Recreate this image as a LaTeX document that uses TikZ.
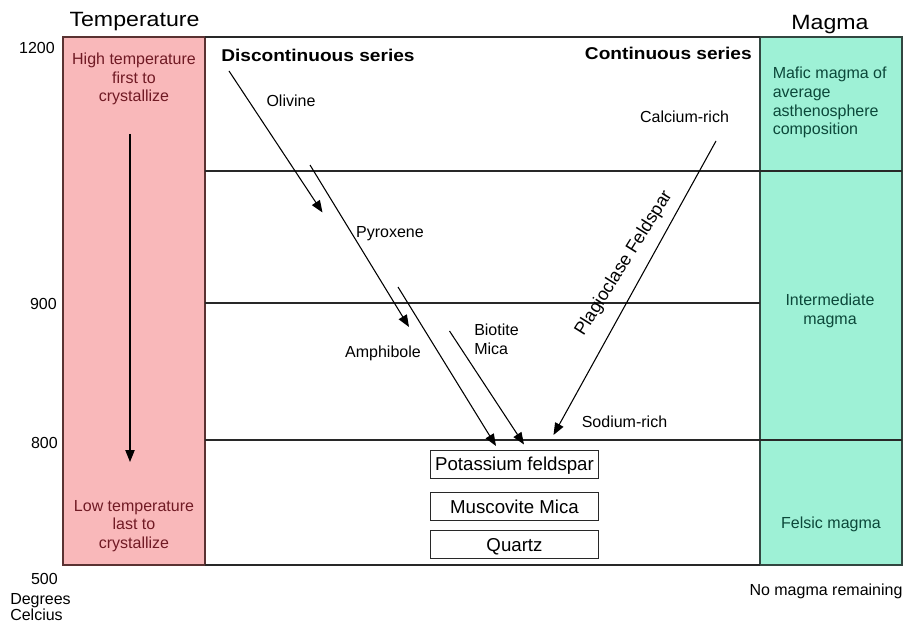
\documentclass[tikz,border=0pt]{standalone}
\usepackage{fontspec}
\setmainfont{Liberation Sans}
\newfontfamily\headfont[FakeStretch=1.12]{Liberation Sans}
\usetikzlibrary{arrows.meta}
\definecolor{pinkfill}{RGB}{249,184,186}
\definecolor{pinkedge}{RGB}{90,50,50}
\definecolor{pinktext}{RGB}{112,26,36}
\definecolor{tealfill}{RGB}{158,241,214}
\definecolor{tealedge}{RGB}{50,70,64}
\definecolor{tealtext}{RGB}{12,72,58}
\definecolor{linegray}{RGB}{40,40,40}
\tikzset{
  body/.style={font=\fontsize{12pt}{13.8pt}\selectfont, inner sep=0pt, anchor=base},
  title/.style={font=\headfont\fontsize{15.5pt}{18pt}\selectfont, inner sep=0pt, anchor=base},
  series/.style={font=\headfont\bfseries\fontsize{12.8pt}{15pt}\selectfont, inner sep=0pt, anchor=base},
  frame/.style={draw=linegray, line width=0.9pt},
  flow/.style={draw=black, line width=0.8pt, -{Triangle[length=9pt,width=7pt]}},
  mineral/.style={draw=linegray, line width=0.9pt, minimum width=125.5pt, minimum height=21pt,
    inner sep=0pt, text height=10pt, text depth=0pt, font=\fontsize{14pt}{16pt}\selectfont},
}
\begin{document}
\begin{tikzpicture}[x=0.75pt,y=-0.75pt]
\useasboundingbox (0,0) rectangle (907,624);
\fill[white] (0,0) rectangle (907,624);
% coloured columns
\draw[fill=pinkfill, draw=pinkedge, line width=0.9pt] (63,37) rectangle (205,565);
\draw[fill=tealfill, draw=tealedge, line width=0.9pt] (760,37) rectangle (902,565);
% frame lines
\draw[frame] (205,37) -- (760,37);
\draw[frame] (205,565) -- (760,565);
\draw[frame] (205,171) -- (902,171);
\draw[frame] (205,303) -- (760,303);
\draw[frame] (205,440) -- (902,440);
% titles
\node[title] (ttemp) at (134.5,27) {Temperature};
\node[title] (tmagma) at (830,30) {Magma};
% temperature scale
\node[body, anchor=base east] (t1200) at (55,54) {1200};
\node[body, anchor=base east] (t900) at (57,309) {900};
\node[body, anchor=base east] (t800) at (58,448) {800};
\node[body, anchor=base east] (t500) at (58,584) {500};
\node[body, anchor=base west] (tdeg) at (10,604) {Degrees};
\node[body, anchor=base west] (tcel) at (10,620.5) {Celcius};
% pink column texts (base anchor = baseline of last line)
\node[body, text=pinktext, align=center, anchor=base] (high) at (134,101.7)
  {High temperature\\first to\\crystallize};
\node[body, text=pinktext, align=center, anchor=base] (low) at (134,548.3)
  {Low temperature\\last to\\crystallize};
\coordinate (ta) at (130,134);
\coordinate (tb) at (130,462);
\draw[flow] (ta) -- (tb);
% teal column texts
\node[body, text=tealtext, align=left, anchor=base west, font=\fontsize{12pt}{14.2pt}\selectfont] (mafic) at (772.5,135)
  {Mafic magma of\\average\\asthenosphere\\composition};
\node[body, text=tealtext, align=center, anchor=base] (inter) at (830,324)
  {Intermediate\\magma};
\node[body, text=tealtext, anchor=base] (felsic) at (831,528.3) {Felsic magma};
\node[body, anchor=base] (nomagma) at (826,595) {No magma remaining};
% series headings
\node[series, anchor=base west] (disc) at (221,62) {Discontinuous series};
\node[series, anchor=base east] (cont) at (752,60) {Continuous series};
% mineral labels
\node[body] (olivine) at (291,107) {Olivine};
\node[body] (pyroxene) at (390,237.3) {Pyroxene};
\node[body] (amphibole) at (383,357.7) {Amphibole};
\node[body, align=left, anchor=base west] (biotite) at (474,354) {Biotite\\Mica};
\node[body] (calcium) at (684.5,122.7) {Calcium-rich};
\node[body] (sodium) at (624.5,427.3) {Sodium-rich};
\node[font=\fontsize{13.5pt}{15pt}\selectfont, inner sep=0pt, anchor=base, rotate=58] (plag) at (628,266) {Plagioclase Feldspar};
% boxes
\node[mineral] (kfeld) at (514.5,464.2) {Potassium feldspar};
\node[mineral] (musc) at (514.5,506.7) {Muscovite Mica};
\node[mineral] (quartz) at (514.5,544.5) {Quartz};
% arrows
\coordinate (a1s) at (229,71);   \coordinate (a1e) at (322.5,212.5);
\coordinate (a2s) at (310,165);  \coordinate (a2e) at (409,327);
\coordinate (a3s) at (398,287);  \coordinate (a3e) at (496,446);
\coordinate (a4s) at (449.5,331); \coordinate (a4e) at (524,444.5);
\coordinate (a5s) at (716,141);  \coordinate (a5e) at (553.5,435);
\draw[flow] (a1s) -- (a1e);
\draw[flow] (a2s) -- (a2e);
\draw[flow] (a3s) -- (a3e);
\draw[flow] (a4s) -- (a4e);
\draw[flow] (a5s) -- (a5e);
\end{tikzpicture}
\end{document}
